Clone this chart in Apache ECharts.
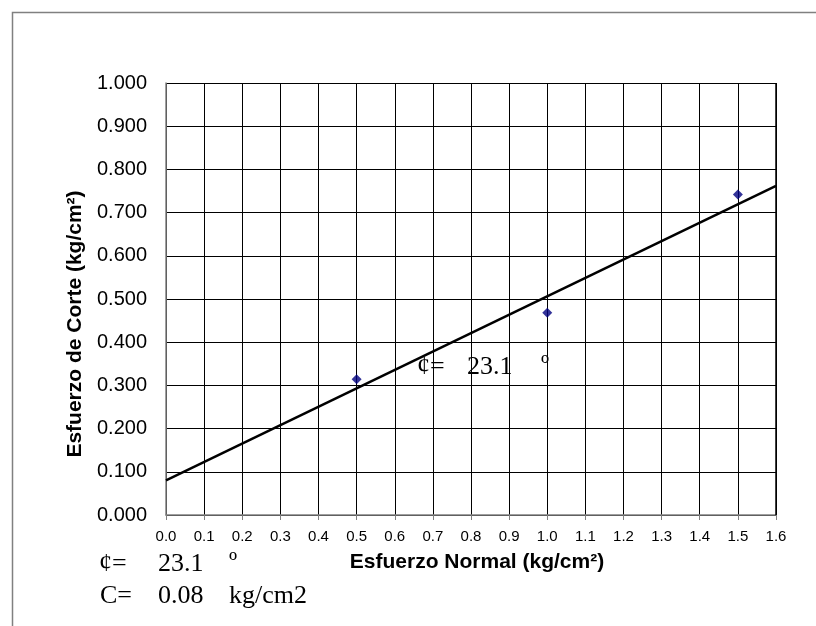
<!DOCTYPE html>
<html>
<head>
<meta charset="utf-8">
<script src="https://cdn.jsdelivr.net/npm/echarts@6/dist/echarts.min.js"></script>
<style>
html,body{margin:0;padding:0;background:#fff;}
#chart{width:816px;height:626px;}
</style>
</head>
<body>
<div id="chart"></div>
<script>
// Data
var pointsX = [0.5, 1.0, 1.5];
var pointsY = [0.314, 0.468, 0.742];
var trendX = [0.0, 1.6];
var trendY = [0.080, 0.762];
var xTitle = 'Esfuerzo Normal (kg/cm\u00B2)';
var yTitle = 'Esfuerzo de Corte (kg/cm\u00B2)';
var phiText = '23.1';
var cText = '0.08';

var chart = echarts.init(document.getElementById('chart'), null, {renderer: 'canvas'});

var scatterData = pointsX.map(function (x, i) { return [x, pointsY[i]]; });
var trendData = trendX.map(function (x, i) { return [x, trendY[i]]; });

var serif = '"Liberation Serif", "Times New Roman", serif';
var sans = '"Liberation Sans", Arial, sans-serif';

function txt(x, y, s) {
  return {
    type: 'text', left: x, top: y, z: 100,
    style: { text: s, font: '26px ' + serif, fill: '#000' }
  };
}

var option = {
  backgroundColor: '#fff',
  animation: false,
  grid: { left: 166, right: 40, top: 83, bottom: 111, show: false },
  xAxis: {
    type: 'value', min: 0, max: 1.6, interval: 0.1,
    axisLine: { show: true, lineStyle: { color: '#808080', width: 1.5 } },
    axisTick: { show: true, length: 5, lineStyle: { color: '#808080' } },
    axisLabel: { fontFamily: sans, fontSize: 15, color: '#000', margin: 14,
      formatter: function (v) { return v.toFixed(1); } },
    splitLine: { show: true, lineStyle: { color: '#000', width: 1 } }
  },
  yAxis: {
    type: 'value', min: 0, max: 1, interval: 0.1,
    axisLine: { show: true, lineStyle: { color: '#808080', width: 1.5 } },
    axisTick: { show: false },
    axisLabel: { fontFamily: sans, fontSize: 20, color: '#000', margin: 19,
      formatter: function (v) { return v.toFixed(3); } },
    splitLine: { show: true, lineStyle: { color: '#000', width: 1 } }
  },
  series: [
    {
      type: 'line', data: trendData, showSymbol: false, symbol: 'none',
      lineStyle: { color: '#000', width: 2.5 }, z: 3
    },
    {
      type: 'scatter', data: scatterData, symbol: 'diamond', symbolSize: [10, 10],
      itemStyle: { color: '#000080' }, z: 4
    }
  ],
  graphic: [
    { type: 'rect', left: 10, top: 10, z: 0, silent: true,
      shape: { width: 830, height: 650 },
      style: { fill: 'none', stroke: '#808080', lineWidth: 1.5 } },
    { type: 'line', z: 50, silent: true, shape: { x1: 776, y1: 83, x2: 776, y2: 515 },
      style: { stroke: '#000', lineWidth: 1.5 } },
    { type: 'text', x: 477, y: 562, z: 100,
      style: { text: xTitle, font: 'bold 21px ' + sans, fill: '#000', align: 'center', verticalAlign: 'middle' } },
    { type: 'text', x: 75, y: 324, rotation: Math.PI / 2, z: 100,
      style: { text: yTitle, font: 'bold 21px ' + sans, fill: '#000', align: 'center', verticalAlign: 'middle' } },
    txt(417, 354, '\u00A2='),
    txt(467, 354, phiText),
    txt(541, 353, '\u00BA'),
    txt(99, 551, '\u00A2='),
    txt(158, 551, phiText),
    txt(229, 550, '\u00BA'),
    txt(100, 583, 'C='),
    txt(158, 583, cText),
    txt(229, 583, 'kg/cm2')
  ]
};
chart.setOption(option);
</script>
</body>
</html>
